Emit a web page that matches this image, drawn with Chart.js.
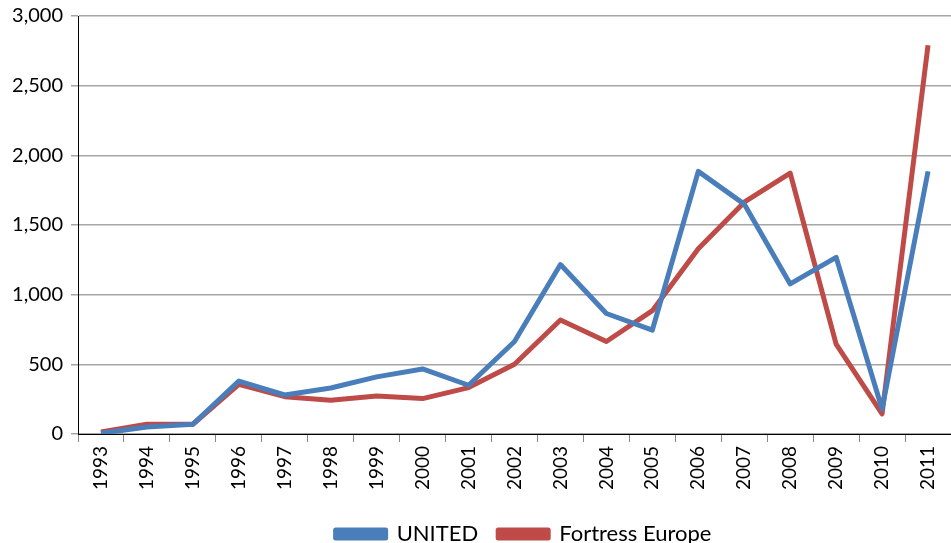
<!DOCTYPE html>
<html>
<head>
<meta charset="utf-8">
<script src="https://cdn.jsdelivr.net/npm/chart.js@4"></script>
<style>
  html, body { margin: 0; padding: 0; background: #fff; }
  #wrap { width: 951px; height: 543px; }
</style>
</head>
<body>
<div id="wrap"><canvas id="chart"></canvas></div>
<script>
const years = ["1993", "1994", "1995", "1996", "1997", "1998", "1999", "2000", "2001", "2002",
  "2003", "2004", "2005", "2006", "2007", "2008", "2009", "2010", "2011"];
const united = [5, 50, 70, 380, 280, 330, 410, 467, 350, 664,
  1216, 865, 746, 1885, 1650, 1077, 1268, 180, 1885];
const fortressEurope = [15, 70, 70, 357, 268, 242, 273, 254, 333, 501,
  818, 664, 885, 1329, 1664, 1873, 645, 145, 2790];
const yTicks = [0, 500, 1000, 1500, 2000, 2500, 3000];

const font = "Lato, 'Liberation Sans', sans-serif";

// legend sits centred under the plot area, not the whole canvas
const shiftLegend = {
  id: "shiftLegend",
  afterLayout(chart) {
    chart.legend.left += 48;
    chart.legend.right += 48;
  },
};

new Chart(document.getElementById("chart").getContext("2d"), {
  type: "line",
  data: {
    labels: years,
    datasets: [
      {
        label: "UNITED",
        data: united,
        borderColor: "#4a7ebb",
        backgroundColor: "#4a7ebb",
        borderWidth: 5,
        pointRadius: 0,
        borderJoinStyle: "round",
        tension: 0,
      },
      {
        label: "Fortress Europe",
        data: fortressEurope,
        borderColor: "#be4b48",
        backgroundColor: "#be4b48",
        borderWidth: 5,
        pointRadius: 0,
        borderJoinStyle: "round",
        tension: 0,
      },
    ],
  },
  plugins: [shiftLegend],
  options: {
    responsive: true,
    maintainAspectRatio: false,
    animation: false,
    layout: { padding: { top: 16, right: 0, left: 0, bottom: -12 } },
    plugins: {
      tooltip: { enabled: false },
      legend: {
        position: "bottom",
        labels: {
          font: { family: font, size: 22 },
          color: "#000",
          boxWidth: 50,
          boxHeight: 8,
          padding: 20,
        },
      },
    },
    scales: {
      x: {
        offset: true,
        grid: { drawOnChartArea: false, drawTicks: true, tickLength: 8, color: "#868686", offset: true },
        border: { color: "#000", width: 1 },
        ticks: {
          font: { family: font, size: 19 },
          color: "#000",
          minRotation: 90,
          maxRotation: 90,
          padding: 4,
          autoSkip: false,
        },
        afterFit: (scale) => {
          scale.height = 69;
          scale.paddingLeft = 0;
          scale.paddingRight = 0;
        },
      },
      y: {
        min: 0,
        max: 3000,
        afterBuildTicks: (scale) => { scale.ticks = yTicks.map((v) => ({ value: v })); },
        grid: { color: "#a6a6a6", drawTicks: true, tickLength: 7, lineWidth: 1.5 },
        border: { color: "#000", width: 1 },
        ticks: {
          font: { family: font, size: 20 },
          color: "#000",
          padding: 8,
          callback: (v) => v.toLocaleString("en-US"),
        },
        afterFit: (scale) => {
          scale.width = 78;
          scale.paddingTop = 0;
          scale.paddingBottom = 0;
        },
      },
    },
  },
});
</script>
</body>
</html>
